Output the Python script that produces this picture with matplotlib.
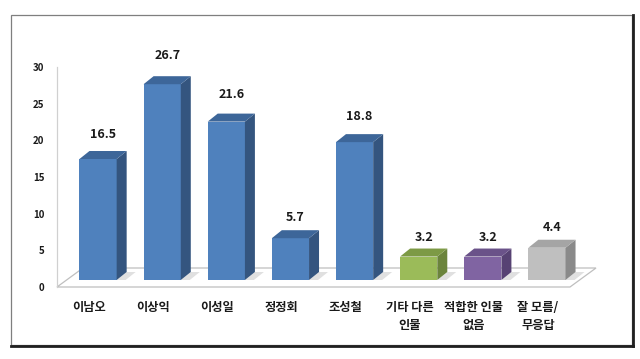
import matplotlib
matplotlib.use("Agg")
import matplotlib.pyplot as plt
from matplotlib.patches import Polygon, Rectangle
from matplotlib.lines import Line2D

plt.rcParams['font.family'] = ['Noto Sans CJK KR', 'DejaVu Sans']

categories = ['이남오', '이상익', '이성일', '정정회', '조성철', '기타 다른\n인물', '적합한 인물\n없음', '잘 모름/\n무응답']
values = [16.5, 26.7, 21.6, 5.7, 18.8, 3.2, 3.2, 4.4]
yticks = [0, 5, 10, 15, 20, 25, 30]

front_colors = ['#4F81BD'] * 5 + ['#9BBB59', '#8064A2', '#BFBFBF']
side_colors = ['#34557F'] * 5 + ['#6B843C', '#574273', '#8A8A8A']
top_colors = ['#3D6699'] * 5 + ['#7D9A45', '#6A5289', '#A5A5A5']

W, H, DPI = 640, 359, 100
fig = plt.figure(figsize=(W / DPI, H / DPI), dpi=DPI)
fig.patch.set_facecolor('white')

# frame
frame = Rectangle((11 / W, 1 - 345 / H), 621 / W, 330 / H, transform=fig.transFigure,
                  fill=False, edgecolor='#7F7F7F', lw=0.9)
fig.add_artist(frame)
fig.add_artist(Line2D([11 / W, 633 / W], [1 - 345.5 / H, 1 - 345.5 / H], transform=fig.transFigure,
                      color='#202020', lw=2.0))
fig.add_artist(Line2D([632.5 / W, 632.5 / W], [1 - 346 / H, 1 - 15 / H], transform=fig.transFigure,
                      color='#202020', lw=2.0))

ax_l, ax_r, ax_b, ax_t = 57, 570, 287, 67
ax = fig.add_axes([ax_l / W, 1 - ax_b / H, (ax_r - ax_l) / W, (ax_b - ax_t) / H])
n = len(categories)
ax.set_xlim(-0.5, n - 0.5)
ax.set_ylim(0, 30)
ax.patch.set_alpha(0)

ppx = (ax_r - ax_l) / n
ppy = (ax_b - ax_t) / 30.0

# floor
fdx, fdy = 26 / ppx, 19 / ppy
floor = Polygon([(-0.5, 0), (n - 0.5, 0), (n - 0.5 + fdx, fdy), (-0.5 + fdx, fdy)],
                closed=True, facecolor='white', edgecolor='#BFBFBF', lw=0.9, clip_on=False, zorder=1)
ax.add_patch(floor)

# bars
bw = 0.58
ox, oy = 9 / ppx, 7 / ppy     # front-face shift into the floor
ddx, ddy = 10 / ppx, 8 / ppy  # bar depth
for i, v in enumerate(values):
    x0 = i + ox - bw / 2
    x1 = x0 + bw
    # shadow on floor
    sh = Polygon([(x1, oy), (x1 + ddx, oy + ddy), (x1 + ddx + 0.14, oy + ddy), (x1 + 0.14, oy)],
                 closed=True, facecolor='#E0E0E0', edgecolor='none', clip_on=False, zorder=1.5)
    ax.add_patch(sh)
    ax.add_patch(Rectangle((x0, oy), bw, v, facecolor=front_colors[i], edgecolor='none',
                           clip_on=False, zorder=3))
    ax.add_patch(Polygon([(x1, oy), (x1 + ddx, oy + ddy), (x1 + ddx, oy + ddy + v), (x1, oy + v)],
                         closed=True, facecolor=side_colors[i], edgecolor='none', clip_on=False, zorder=3))
    ax.add_patch(Polygon([(x0, oy + v), (x1, oy + v), (x1 + ddx, oy + v + ddy), (x0 + ddx, oy + v + ddy)],
                         closed=True, facecolor=top_colors[i], edgecolor='none', clip_on=False, zorder=3))
    # label placed in the projected label plane (slightly larger vertical scale)
    ly = oy + v * 1.056 + 18.2 / ppy
    ax.text(i + ox + ddx / 2, ly, f'{v:.1f}', ha='center', va='center',
            fontsize=9, fontweight='bold', color='#1A1A1A', clip_on=False)

ax.set_yticks(yticks)
ax.set_yticklabels([str(t) for t in yticks], fontsize=7, fontweight='bold', color='#1A1A1A')
ax.set_xticks(range(n))
ax.set_xticklabels(categories, fontsize=8.8, fontweight='bold', color='#1A1A1A', linespacing=1.55)
ax.tick_params(axis='y', length=0, pad=9)
ax.tick_params(axis='x', length=0, pad=10)
for s in ['top', 'right', 'bottom']:
    ax.spines[s].set_visible(False)
ax.spines['left'].set_color('#D0D0D0')
ax.spines['left'].set_linewidth(0.9)

fig.savefig('out.png', dpi=DPI, facecolor='white')
